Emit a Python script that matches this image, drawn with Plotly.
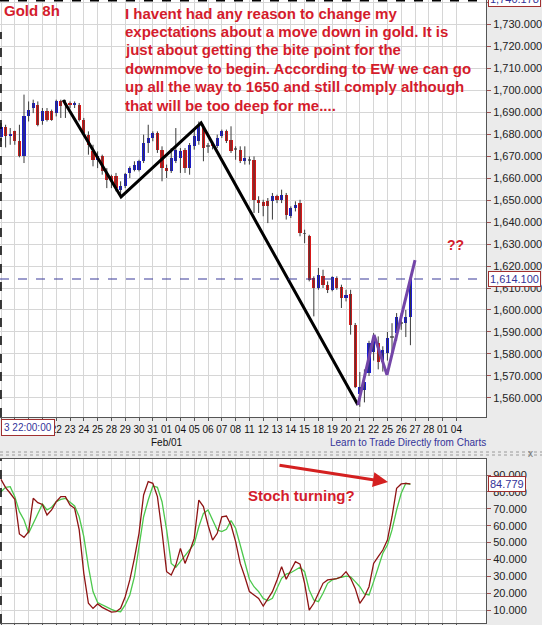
import plotly.graph_objects as go

# ---------------- data ----------------
day_labels = ["16", "17", "18", "21", "22", "23", "24", "25", "28", "29", "30", "31",
              "01", "04", "05", "06", "07", "08", "11", "12", "13", "14", "15", "18",
              "19", "20", "21", "22", "25", "26", "27", "28", "01", "04"]
hidden_day_labels = 4   # labels covered by the cursor time box
bars_per_day = 3

opens = [
    1678.5, 1683.0, 1678.9, 1681.2, 1676.7, 1669.8, 1688.0, 1691.8, 1693.3, 1685.7,
    1690.3, 1690.3, 1689.5, 1694.8, 1693.4, 1694.1, 1693.3, 1693.3, 1686.5, 1679.7,
    1672.1, 1668.3, 1669.8, 1662.3, 1660.7, 1660.7, 1654.7, 1656.2, 1662.3, 1663.8,
    1663.8, 1667.6, 1675.9, 1678.2, 1680.4, 1672.9, 1664.5, 1663.0, 1667.6, 1669.1,
    1672.9, 1664.5, 1674.4, 1676.7, 1682.7, 1674.2, 1675.9, 1674.4, 1679.0, 1681.2,
    1677.4, 1673.0, 1672.9, 1667.6, 1668.1, 1668.3, 1650.1, 1649.0, 1649.4, 1649.4,
    1651.7, 1650.1, 1652.4, 1642.6, 1646.4, 1648.6, 1634.6, 1633.5, 1614.5, 1610.0,
    1615.3, 1611.5, 1609.2, 1614.5, 1610.4, 1605.4, 1607.3, 1593.2, 1562.0, 1563.6,
    1571.4, 1581.0, 1585.0, 1576.4, 1580.5, 1587.5, 1589.5, 1594.0, 1594.0, 1596.8]
closes = [
    1683.0, 1678.9, 1680.0, 1676.7, 1669.8, 1688.0, 1691.1, 1694.1, 1684.2, 1690.3,
    1686.5, 1686.5, 1694.8, 1692.6, 1693.4, 1693.3, 1694.1, 1686.5, 1680.4, 1675.1,
    1668.3, 1669.8, 1663.0, 1659.2, 1658.5, 1655.4, 1656.2, 1661.8, 1664.5, 1666.1,
    1667.6, 1675.9, 1678.2, 1680.4, 1672.9, 1664.5, 1663.0, 1669.1, 1672.9, 1672.1,
    1664.5, 1675.1, 1678.9, 1684.2, 1673.6, 1674.2, 1674.4, 1678.2, 1681.2, 1676.7,
    1672.1, 1673.0, 1667.6, 1668.9, 1668.1, 1650.1, 1648.6, 1647.1, 1647.1, 1651.7,
    1650.1, 1652.4, 1643.3, 1646.4, 1647.9, 1635.0, 1634.6, 1613.8, 1610.0, 1615.7,
    1611.5, 1609.2, 1614.8, 1610.0, 1605.4, 1607.0, 1593.3, 1565.0, 1565.0, 1567.3,
    1585.0, 1587.3, 1576.4, 1581.8, 1587.3, 1587.5, 1596.8, 1594.0, 1596.8, 1614.1]
highs = [
    1685.0, 1684.2, 1682.7, 1681.5, 1684.2, 1697.9, 1694.8, 1695.6, 1694.8, 1691.8,
    1691.8, 1691.1, 1695.6, 1695.6, 1695.5, 1694.8, 1694.8, 1694.1, 1687.3, 1681.2,
    1675.1, 1672.1, 1670.6, 1664.5, 1661.5, 1662.3, 1658.5, 1662.3, 1665.3, 1667.6,
    1668.3, 1679.7, 1684.2, 1681.2, 1681.2, 1674.4, 1666.1, 1673.6, 1682.7, 1673.6,
    1673.6, 1675.9, 1682.7, 1685.7, 1684.2, 1675.9, 1676.7, 1679.7, 1682.0, 1682.0,
    1683.5, 1674.4, 1674.4, 1674.4, 1669.8, 1669.8, 1651.7, 1650.1, 1650.9, 1653.2,
    1652.4, 1654.7, 1653.2, 1647.1, 1649.4, 1650.1, 1636.5, 1634.2, 1615.3, 1619.1,
    1618.3, 1613.0, 1615.3, 1615.3, 1611.5, 1609.2, 1609.2, 1594.1, 1571.8, 1573.0,
    1586.0, 1589.5, 1588.0, 1583.5, 1590.0, 1594.0, 1598.6, 1598.6, 1600.0, 1615.0]
lows = [
    1676.7, 1673.9, 1675.1, 1675.1, 1669.4, 1666.8, 1685.7, 1689.5, 1683.5, 1684.2,
    1685.7, 1686.0, 1688.0, 1687.3, 1687.3, 1691.8, 1691.8, 1685.7, 1679.7, 1670.6,
    1665.3, 1664.5, 1661.5, 1655.4, 1655.4, 1653.9, 1651.7, 1655.4, 1660.0, 1663.0,
    1663.0, 1666.8, 1671.4, 1676.7, 1671.4, 1658.5, 1660.0, 1662.3, 1666.8, 1662.3,
    1662.3, 1661.5, 1672.9, 1675.1, 1667.6, 1671.4, 1673.0, 1673.6, 1678.2, 1675.9,
    1671.4, 1668.3, 1666.8, 1666.1, 1666.1, 1644.1, 1644.1, 1642.6, 1639.5, 1641.1,
    1648.6, 1648.6, 1641.1, 1641.8, 1644.8, 1633.5, 1630.4, 1613.0, 1597.1, 1609.2,
    1610.0, 1607.7, 1608.5, 1609.2, 1600.9, 1603.9, 1588.8, 1564.5, 1556.0, 1558.0,
    1570.0, 1577.0, 1573.0, 1572.0, 1577.0, 1580.5, 1586.0, 1591.0, 1587.7, 1584.0]

stoch_k = [
    87.4, 82.5, 79.2, 75.6, 55.1, 53.1, 56.5, 76.2, 73.6, 72.6,
    66.3, 69.3, 74.2, 77.2, 77.2, 72.2, 70.3, 57.5, 31.8, 14.1,
    11.1, 13.7, 11.7, 10.5, 8.9, 9.1, 11.1, 18.0, 27.9, 40.7,
    55.5, 78.2, 86.1, 85.1, 77.2, 56.5, 32.8, 30.8, 36.7, 46.6,
    37.7, 44.6, 52.5, 75.2, 71.3, 60.4, 51.5, 55.5, 65.3, 65.7,
    60.4, 50.6, 37.7, 29.8, 21.0, 19.0, 17.0, 12.5, 17.0, 21.0,
    27.9, 35.8, 28.3, 33.8, 38.7, 37.3, 25.9, 10.1, 14.1, 20.0,
    25.9, 27.9, 28.3, 28.7, 29.8, 32.8, 28.9, 22.9, 14.1, 18.0,
    23.9, 37.7, 41.7, 45.6, 51.5, 65.3, 82.1, 84.7, 85.1, 84.8]
stoch_d = [
    80.1, 82.7, 83.1, 77.2, 68.3, 63.4, 55.5, 61.4, 67.3, 72.8,
    69.3, 70.9, 74.2, 75.6, 76.2, 74.2, 71.7, 65.3, 53.5, 35.8,
    21.0, 14.5, 13.1, 12.1, 10.5, 9.5, 9.1, 13.1, 19.0, 29.8,
    47.6, 65.3, 75.2, 83.5, 82.7, 74.2, 57.5, 37.7, 35.4, 38.7,
    42.1, 46.0, 49.2, 59.4, 67.3, 69.3, 63.4, 57.5, 56.5, 57.9,
    63.0, 58.5, 48.6, 37.7, 28.3, 23.9, 21.0, 17.0, 15.6, 17.0,
    22.9, 28.9, 31.4, 32.2, 33.8, 35.4, 32.8, 22.0, 16.0, 15.1,
    20.0, 25.9, 27.9, 28.9, 29.5, 30.2, 29.8, 26.9, 23.9, 19.6,
    19.0, 26.9, 34.8, 43.7, 48.6, 57.5, 69.3, 79.2, 85.1, 84.5]

# hand-drawn wave lines (bar index, price)
wave_black_x = [13.5, 26.1, 43.5, 77.6]
wave_black_y = [1695.5, 1651.4, 1685.0, 1556.8]
wave_purple_x = [77.6, 81.1, 83.9, 90.0]
wave_purple_y = [1556.8, 1588.6, 1570.5, 1622.7]

last_price = 1614.1
last_price_label = "1,614.100"
top_price_label = "1,740.178"
last_stoch_label = "84.779"
cursor_label = "3 22:00:00"

note_lines = ["I havent had any reason to change my",
              "expectations about a move down in gold. It is",
              "just about getting the bite point for the",
              "downmove to begin. According to EW we can go",
              "up all the way to 1650 and still comply although",
              "that will be too deep for me...."]

# ---------------- geometry helpers ----------------
W, H = 542, 625
PL, PR = 0, 486          # plot left / right in px
def fx(px):
    return (px - PL) / (PR - PL)
def fy(py):
    return (H - py) / H

n = len(opens)
idx = list(range(n))
RED = "#d41c2c"
NAVY = "#333399"
FONT = "Arial, Liberation Sans, sans-serif"

fig = go.Figure()

# wicks
wx, wy = [], []
for i in idx:
    wx += [i, i, None]
    wy += [lows[i], highs[i], None]
fig.add_trace(go.Scatter(x=wx, y=wy, mode="lines", line=dict(color="#3a3a3a", width=1),
                         hoverinfo="skip", showlegend=False, xaxis="x", yaxis="y"))
# bodies
body_base = [min(o, c) for o, c in zip(opens, closes)]
body_h = [max(abs(c - o), 0.4) for o, c in zip(opens, closes)]
body_col = ["#1a1ad4" if c > o else ("#d81818" if c < o else "#808080")
            for o, c in zip(opens, closes)]
fig.add_trace(go.Bar(x=idx, y=body_h, base=body_base, width=0.68,
                     marker=dict(color=body_col, line=dict(width=0)),
                     showlegend=False, xaxis="x", yaxis="y"))

# wave lines
fig.add_trace(go.Scatter(x=wave_black_x, y=wave_black_y, mode="lines",
                         line=dict(color="#000000", width=3), showlegend=False,
                         xaxis="x", yaxis="y"))
fig.add_trace(go.Scatter(x=wave_purple_x, y=wave_purple_y, mode="lines",
                         line=dict(color="#7446a8", width=3), showlegend=False,
                         xaxis="x", yaxis="y"))

# stochastic
fig.add_trace(go.Scatter(x=idx, y=stoch_d, mode="lines", line=dict(color="#4cc84c", width=1.3),
                         showlegend=False, xaxis="x2", yaxis="y2"))
fig.add_trace(go.Scatter(x=idx, y=stoch_k, mode="lines", line=dict(color="#8e1414", width=1.3),
                         showlegend=False, xaxis="x2", yaxis="y2"))

# ---------------- axes ----------------
x_range = [-0.22, 105.43]
tickvals = [k * bars_per_day for k in range(len(day_labels))]
ticktext = ["" if k < hidden_day_labels else d for k, d in enumerate(day_labels)]
grid = "#d6d6d6"
common_x = dict(range=x_range, tickmode="array", tickvals=tickvals, showgrid=True,
                gridcolor=grid, gridwidth=1, zeroline=False, showline=True,
                linecolor="#555555", linewidth=1, ticks="outside", ticklen=3,
                tickcolor="#555555", tickangle=0, fixedrange=True)
fig.update_layout(
    xaxis=dict(domain=[0, 1], anchor="y", ticktext=ticktext,
               tickfont=dict(family=FONT, size=10, color="#111111"), **common_x),
    xaxis2=dict(domain=[0, 1], anchor="y2", showticklabels=False, mirror=True, **common_x),
    yaxis=dict(domain=[fy(417), fy(0)], side="right", range=[1551.36, 1740.91],
               tickmode="linear", tick0=1560, dtick=10, tickformat=",.3f",
               showgrid=True, gridcolor=grid, zeroline=False, showline=True,
               linecolor="#555555", ticks="outside", ticklen=4, tickcolor="#a05050",
               tickfont=dict(family=FONT, size=11, color="#222222"), fixedrange=True),
    yaxis2=dict(domain=[fy(623), fy(459)], side="right", anchor="x2", range=[2.43, 99.47],
                tickmode="array", tickvals=[10, 20, 30, 40, 50, 60, 70, 80, 90],
                tickformat=".3f", showgrid=True, gridcolor=grid, zeroline=False,
                showline=True, linecolor="#555555", ticks="outside", ticklen=4,
                tickcolor="#a05050", tickfont=dict(family=FONT, size=11, color="#222222"),
                fixedrange=True),
    width=W, height=H, margin=dict(l=PL, r=W - PR, t=0, b=0, pad=0),
    paper_bgcolor="#ebebeb", plot_bgcolor="#ffffff", bargap=0, showlegend=False,
    font=dict(family=FONT),
)

shapes = []
# white area behind the comment text
shapes.append(dict(type="rect", xref="paper", yref="paper", x0=fx(0), x1=fx(120),
                   y0=fy(31), y1=fy(0), fillcolor="white", line_width=0, layer="between"))
shapes.append(dict(type="rect", xref="paper", yref="paper", x0=fx(120), x1=fx(485),
                   y0=fy(111), y1=fy(0), fillcolor="white", line_width=0, layer="between"))
# last price dashed line
shapes.append(dict(type="line", xref="paper", yref="y", x0=0, x1=1, y0=last_price,
                   y1=last_price, line=dict(color="#3a3a9a", width=1.2, dash="dash")))
# dashed selection frame
shapes.append(dict(type="line", xref="paper", yref="paper", x0=0, x1=1, y0=fy(0.8), y1=fy(0.8),
                   line=dict(color="#000000", width=1.5, dash="dash")))
shapes.append(dict(type="line", xref="paper", yref="paper", x0=0.002, x1=0.002,
                   y0=fy(417), y1=fy(32), line=dict(color="#000000", width=1.5, dash="dash")))
shapes.append(dict(type="line", xref="paper", yref="paper", x0=0.002, x1=0.002,
                   y0=fy(623), y1=fy(459), line=dict(color="#000000", width=1.5, dash="dash")))
# dotted separator between panels
for py in (452, 455):
    shapes.append(dict(type="line", xref="paper", yref="paper", x0=0, x1=fx(W), y0=fy(py),
                       y1=fy(py), line=dict(color="#9a9a9a", width=1, dash="dot")))
fig.update_layout(shapes=shapes)

ann = []
ann.append(dict(text="<b>Gold 8h</b>", xref="paper", yref="paper", x=fx(2), y=fy(11),
                xanchor="left", yanchor="middle", showarrow=False,
                font=dict(family=FONT, size=15, color=RED)))
for k, line in enumerate(note_lines):
    ann.append(dict(text="<b>" + line + "</b>", xref="paper", yref="paper", x=fx(123),
                    y=fy(13 + 18.4 * k), xanchor="left", yanchor="middle", showarrow=False,
                    font=dict(family=FONT, size=15, color=RED)))
ann.append(dict(text="<b>??</b>", xref="paper", yref="paper", x=fx(455), y=fy(245),
                xanchor="center", yanchor="middle", showarrow=False,
                font=dict(family=FONT, size=14, color=RED)))
ann.append(dict(text="<b>Stoch turning?</b>", xref="paper", yref="paper", x=fx(301), y=fy(495),
                xanchor="center", yanchor="middle", showarrow=False,
                font=dict(family=FONT, size=15, color=RED)))
ann.append(dict(text="", xref="paper", yref="paper", x=fx(388), y=fy(482),
                axref="pixel", ayref="pixel", ax=278 - 388, ay=465 - 482,
                showarrow=True, arrowhead=2, arrowsize=1, arrowwidth=3, arrowcolor="#d42020"))
# value boxes on the axes
ann.append(dict(text=last_price_label, xref="paper", yref="y", x=fx(488), y=last_price,
                xanchor="left", yanchor="middle", showarrow=False, bgcolor="white",
                bordercolor="#a03030", borderwidth=1, borderpad=1,
                font=dict(family=FONT, size=11, color=NAVY)))
ann.append(dict(text=top_price_label, xref="paper", yref="paper", x=fx(488), y=fy(-1),
                xanchor="left", yanchor="middle", showarrow=False, bgcolor="white",
                bordercolor="#a03030", borderwidth=1, borderpad=1,
                font=dict(family=FONT, size=11, color=NAVY)))
ann.append(dict(text=last_stoch_label, xref="paper", yref="y2", x=fx(488), y=stoch_k[-1],
                xanchor="left", yanchor="middle", showarrow=False, bgcolor="white",
                bordercolor="#a03030", borderwidth=1, borderpad=1,
                font=dict(family=FONT, size=11, color=NAVY)))
ann.append(dict(text=cursor_label, xref="paper", yref="paper", x=fx(1), y=fy(427),
                xanchor="left", yanchor="middle", showarrow=False, bgcolor="white",
                bordercolor="#a03030", borderwidth=1, borderpad=2,
                font=dict(family=FONT, size=10, color=NAVY)))
ann.append(dict(text="Feb/01", xref="x", yref="paper", x=12 * bars_per_day, y=fy(442),
                xanchor="center", yanchor="middle", showarrow=False,
                font=dict(family=FONT, size=10, color="#111111")))
ann.append(dict(text="Learn to Trade Directly from Charts", xref="paper", yref="paper",
                x=fx(408), y=fy(442), xanchor="center", yanchor="middle", showarrow=False,
                font=dict(family=FONT, size=10, color=NAVY)))
ann.append(dict(text="x", xref="paper", yref="paper", x=fx(530), y=fy(453),
                xanchor="center", yanchor="middle", showarrow=False,
                font=dict(family=FONT, size=10, color="#777777")))
fig.update_layout(annotations=ann)

fig.write_html("out.html", config={"displayModeBar": False},
               post_script="document.body.style.margin='0';")
